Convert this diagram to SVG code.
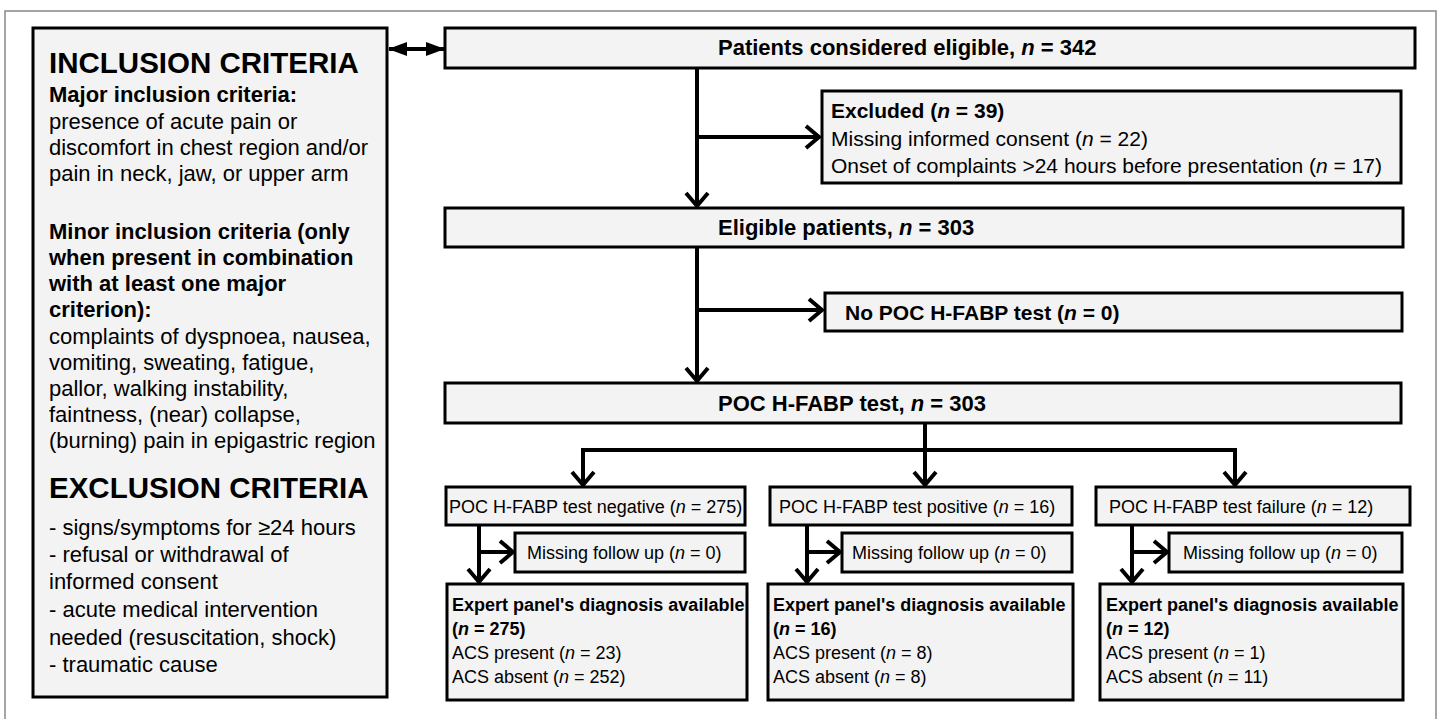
<svg xmlns="http://www.w3.org/2000/svg" width="1444" height="719" viewBox="0 0 1444 719">
<style>
.box{fill:#f3f3f3;stroke:#000;stroke-width:3}
.t{font-family:"Liberation Sans",Arial,sans-serif;fill:#000}
.b{font-weight:bold}
.i{font-style:italic}
.lt{font-size:22px}
.h{font-size:29.5px;font-weight:bold}
.m{font-size:22px;font-weight:bold}
.ex{font-size:21px}
.s{font-size:18px}
.ln{fill:none;stroke:#000;stroke-width:4}
</style>
<defs>
<marker id="ah" markerUnits="userSpaceOnUse" markerWidth="22" markerHeight="28" refX="14" refY="12" orient="auto" overflow="visible">
<path d="M1,1 L14,12 L1,23" fill="none" stroke="#000" stroke-width="4"/>
</marker>
<marker id="tri" markerUnits="userSpaceOnUse" markerWidth="20" markerHeight="16" refX="18" refY="7" orient="auto-start-reverse" overflow="visible">
<path d="M0,0 L19,7 L0,14 z" fill="#000"/>
</marker>
</defs>
<rect x="5" y="11" width="1431" height="715" fill="#fff" stroke="#888" stroke-width="1.5"/>

<g id="criteria">
<rect class="box" x="33" y="28" width="354" height="669"/>
<text class="t h" x="49" y="73">INCLUSION CRITERIA</text>
<text class="t lt b" x="49" y="102">Major inclusion criteria:</text>
<text class="t lt" x="49" y="129">presence of acute pain or</text>
<text class="t lt" x="49" y="155">discomfort in chest region and/or</text>
<text class="t lt" x="49" y="181">pain in neck, jaw, or upper arm</text>
<text class="t lt b" x="49" y="239">Minor inclusion criteria (only</text>
<text class="t lt b" x="49" y="265">when present in combination</text>
<text class="t lt b" x="49" y="291">with at least one major</text>
<text class="t lt b" x="49" y="317">criterion):</text>
<text class="t lt" x="49" y="344">complaints of dyspnoea, nausea,</text>
<text class="t lt" x="49" y="370">vomiting, sweating, fatigue,</text>
<text class="t lt" x="49" y="396">pallor, walking instability,</text>
<text class="t lt" x="49" y="422">faintness, (near) collapse,</text>
<text class="t lt" x="49" y="448">(burning) pain in epigastric region</text>
<text class="t h" x="49" y="498">EXCLUSION CRITERIA</text>
<text class="t lt" x="49" y="535">- signs/symptoms for ≥24 hours</text>
<text class="t lt" x="49" y="562">- refusal or withdrawal of</text>
<text class="t lt" x="49" y="589">informed consent</text>
<text class="t lt" x="49" y="617">- acute medical intervention</text>
<text class="t lt" x="49" y="645">needed (resuscitation, shock)</text>
<text class="t lt" x="49" y="672">- traumatic cause</text>
</g>

<g id="considered">
<rect class="box" x="445" y="28" width="970" height="40"/>
<text class="t m" x="718" y="55">Patients considered eligible, <tspan class="i">n</tspan> = 342</text>
</g>

<g id="excluded">
<rect class="box" x="822" y="91" width="579" height="92"/>
<text class="t ex b" x="831" y="118">Excluded (<tspan class="i">n</tspan> = 39)</text>
<text class="t ex" x="831" y="146">Missing informed consent (<tspan class="i">n</tspan> = 22)</text>
<text class="t ex" x="831" y="173">Onset of complaints &gt;24 hours before presentation (<tspan class="i">n</tspan> = 17)</text>
</g>

<g id="eligible">
<rect class="box" x="445" y="208" width="958" height="39"/>
<text class="t m" x="718" y="235">Eligible patients, <tspan class="i">n</tspan> = 303</text>
</g>

<g id="nopoc">
<rect class="box" x="825" y="293" width="577" height="38"/>
<text class="t b" style="font-size:21px" x="845" y="320">No POC H-FABP test (<tspan class="i">n</tspan> = 0)</text>
</g>

<g id="poctest">
<rect class="box" x="445" y="383" width="956" height="40"/>
<text class="t m" x="718" y="411">POC H-FABP test, <tspan class="i">n</tspan> = 303</text>
</g>

<g id="negative">
<rect class="box" x="446" y="487" width="299" height="38"/>
<text class="t s" x="449" y="513">POC H-FABP test negative (<tspan class="i">n</tspan> = 275)</text>
</g>
<g id="positive">
<rect class="box" x="770" y="487" width="302" height="38"/>
<text class="t s" x="779" y="513">POC H-FABP test positive (<tspan class="i">n</tspan> = 16)</text>
</g>
<g id="failure">
<rect class="box" x="1096" y="487" width="314" height="38"/>
<text class="t s" x="1109" y="513">POC H-FABP test failure (<tspan class="i">n</tspan> = 12)</text>
</g>

<g id="missing-neg">
<rect class="box" x="515" y="533" width="230" height="39"/>
<text class="t s" x="527" y="559">Missing follow up (<tspan class="i">n</tspan> = 0)</text>
</g>
<g id="missing-pos">
<rect class="box" x="842" y="533" width="230" height="39"/>
<text class="t s" x="852" y="559">Missing follow up (<tspan class="i">n</tspan> = 0)</text>
</g>
<g id="missing-fail">
<rect class="box" x="1169" y="533" width="233" height="39"/>
<text class="t s" x="1183" y="559">Missing follow up (<tspan class="i">n</tspan> = 0)</text>
</g>

<g id="expert-neg">
<rect class="box" x="447" y="584" width="300" height="116"/>
<text class="t s b" x="452" y="611">Expert panel's diagnosis available</text>
<text class="t s b" x="452" y="635">(<tspan class="i">n</tspan> = 275)</text>
<text class="t s" x="452" y="659">ACS present (<tspan class="i">n</tspan> = 23)</text>
<text class="t s" x="452" y="683">ACS absent (<tspan class="i">n</tspan> = 252)</text>
</g>
<g id="expert-pos">
<rect class="box" x="768" y="584" width="305" height="116"/>
<text class="t s b" x="773" y="611">Expert panel's diagnosis available</text>
<text class="t s b" x="773" y="635">(<tspan class="i">n</tspan> = 16)</text>
<text class="t s" x="773" y="659">ACS present (<tspan class="i">n</tspan> = 8)</text>
<text class="t s" x="773" y="683">ACS absent (<tspan class="i">n</tspan> = 8)</text>
</g>
<g id="expert-fail">
<rect class="box" x="1100" y="584" width="303" height="116"/>
<text class="t s b" x="1106" y="611">Expert panel's diagnosis available</text>
<text class="t s b" x="1106" y="635">(<tspan class="i">n</tspan> = 12)</text>
<text class="t s" x="1106" y="659">ACS present (<tspan class="i">n</tspan> = 1)</text>
<text class="t s" x="1106" y="683">ACS absent (<tspan class="i">n</tspan> = 11)</text>
</g>

<g id="connectors">
<line class="ln" x1="389" y1="49" x2="444" y2="49" marker-start="url(#tri)" marker-end="url(#tri)"/>
<line class="ln" x1="697" y1="68" x2="697" y2="206" marker-end="url(#ah)"/>
<line class="ln" x1="697" y1="137" x2="819" y2="137" marker-end="url(#ah)"/>
<line class="ln" x1="697" y1="247" x2="697" y2="381" marker-end="url(#ah)"/>
<line class="ln" x1="697" y1="310" x2="822" y2="310" marker-end="url(#ah)"/>
<polyline class="ln" points="925,423 925,450"/>
<polyline class="ln" points="583,486 583,450 1235,450 1235,485" marker-end="url(#ah)"/>
<line class="ln" x1="583" y1="450" x2="583" y2="485" marker-end="url(#ah)"/>
<line class="ln" x1="925" y1="450" x2="925" y2="485" marker-end="url(#ah)"/>
<line class="ln" x1="479" y1="525" x2="479" y2="582" marker-end="url(#ah)"/>
<line class="ln" x1="479" y1="552" x2="513" y2="552" marker-end="url(#ah)"/>
<line class="ln" x1="807" y1="525" x2="807" y2="582" marker-end="url(#ah)"/>
<line class="ln" x1="807" y1="552" x2="840" y2="552" marker-end="url(#ah)"/>
<line class="ln" x1="1132" y1="525" x2="1132" y2="582" marker-end="url(#ah)"/>
<line class="ln" x1="1132" y1="552" x2="1167" y2="552" marker-end="url(#ah)"/>
</g>
</svg>
